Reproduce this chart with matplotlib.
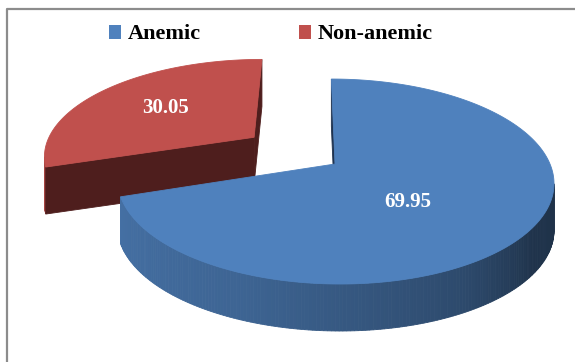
import numpy as np
import matplotlib.pyplot as plt
from matplotlib.patches import Polygon, Patch
from matplotlib.lines import Line2D

# data
labels = ["Anemic", "Non-anemic"]
values = [69.95, 30.05]
colors = ["#4F81BD", "#C0504D"]
dark_colors = ["#1F3350", "#4E1E1D"]
explode = [0.0, 0.48]
label_pos = [(-13.0, 0.475), (0.0, 0.58)]   # (angle from bisector, radius)

W, H = 575, 362
cx, cy = 335.0, 164.0   # pie centre (px)
R = 215.0               # horizontal radius
A = 99.5                # depth radius
D = 5.85                # perspective distance
vp = 310.0              # vanishing x
h = 47.0                # thickness
cam = np.array([(vp - cx) / R, -D])


def proj(u, v, z=0.0):
    k = D / (D + v)
    return vp + (cx + R * u - vp) * k, cy - A * v * k + z


def rgb(c):
    c = c.lstrip("#")
    return np.array([int(c[i:i + 2], 16) for i in (0, 2, 4)]) / 255.0


def wall_shade(t):
    t = t % 360
    f = np.interp(t, [180, 247, 300, 325, 360], [0.9, 0.78, 0.57, 0.4, 0.38])
    return f


def visible(px, py, nx, ny):
    return (cam[0] - px) * nx + (cam[1] - py) * ny > 0


fig = plt.figure(figsize=(W / 100, H / 100), dpi=100)
ax = fig.add_axes([0, 0, 1, 1])
ax.set_xlim(0, W)
ax.set_ylim(H, 0)
ax.axis("off")

# frame of the chart area (cropped at right / bottom)
ax.add_line(Line2D([7, 7, W], [H, 9, 9], color="#8C8C8C", lw=1.6))

fracs = np.array(values) / sum(values)
spans = []
t0 = 90.0
for f in fracs:
    spans.append((t0 - 360 * f, t0))
    t0 = t0 - 360 * f

slices = []
for i, (t1, t0) in enumerate(spans):
    mid = np.radians((t1 + t0) / 2)
    ox, oy = explode[i] * np.cos(mid), explode[i] * np.sin(mid)
    slices.append((oy, i, t1, t0, ox, mid))
slices.sort(reverse=True)   # back first

for oy, i, t1, t0, ox, mid in slices:
    base = rgb(colors[i])
    # outer wall
    ts = np.linspace(t1, t0, 300)
    for a1, a2 in zip(ts[:-1], ts[1:]):
        am = np.radians((a1 + a2) / 2)
        if not visible(ox + np.cos(am), oy + np.sin(am), np.cos(am), np.sin(am)):
            continue
        pts = []
        for a in (a1, a2):
            r = np.radians(a)
            pts.append(proj(ox + np.cos(r), oy + np.sin(r)))
        for a in (a2, a1):
            r = np.radians(a)
            pts.append(proj(ox + np.cos(r), oy + np.sin(r), h))
        col = np.clip(base * wall_shade((a1 + a2) / 2), 0, 1)
        ax.add_patch(Polygon(pts, closed=True, fc=col, ec=col, lw=0.6))
    # radial cut faces
    for ta, sgn in ((t0, 1), (t1, -1)):
        r = np.radians(ta)
        nr = r + sgn * np.pi / 2
        px, py = ox + 0.5 * np.cos(r), oy + 0.5 * np.sin(r)
        if not visible(px, py, np.cos(nr), np.sin(nr)):
            continue
        ex, ey = ox + np.cos(r), oy + np.sin(r)
        pts = [proj(ox, oy), proj(ex, ey), proj(ex, ey, h), proj(ox, oy, h)]
        ax.add_patch(Polygon(pts, closed=True, fc=dark_colors[i],
                             ec=dark_colors[i], lw=0.6))
    # top face
    rr = np.radians(np.linspace(t1, t0, 300))
    pts = [proj(ox, oy)] + [proj(ox + np.cos(r), oy + np.sin(r)) for r in rr]
    ax.add_patch(Polygon(pts, closed=True, fc=colors[i], ec=colors[i], lw=0.6))

# data labels
for oy, i, t1, t0, ox, mid in slices:
    da, lr = label_pos[i]
    la = mid + np.radians(da)
    X, Y = proj(ox + lr * np.cos(la), oy + lr * np.sin(la))
    ax.text(X, Y, f"{values[i]:.2f}", color="white", fontsize=15,
            fontweight="bold", family="Liberation Serif",
            ha="center", va="center")

handles = [Patch(fc=c, ec="none") for c in colors]
fig.legend(handles, labels, loc="center", bbox_to_anchor=(0.471, 0.905),
           ncol=2, frameon=False, handlelength=0.55, handleheight=0.6,
           handletextpad=0.3, columnspacing=4.4,
           prop={"family": "Liberation Serif", "weight": "bold", "size": 16})

fig.savefig("out.png", dpi=100)
